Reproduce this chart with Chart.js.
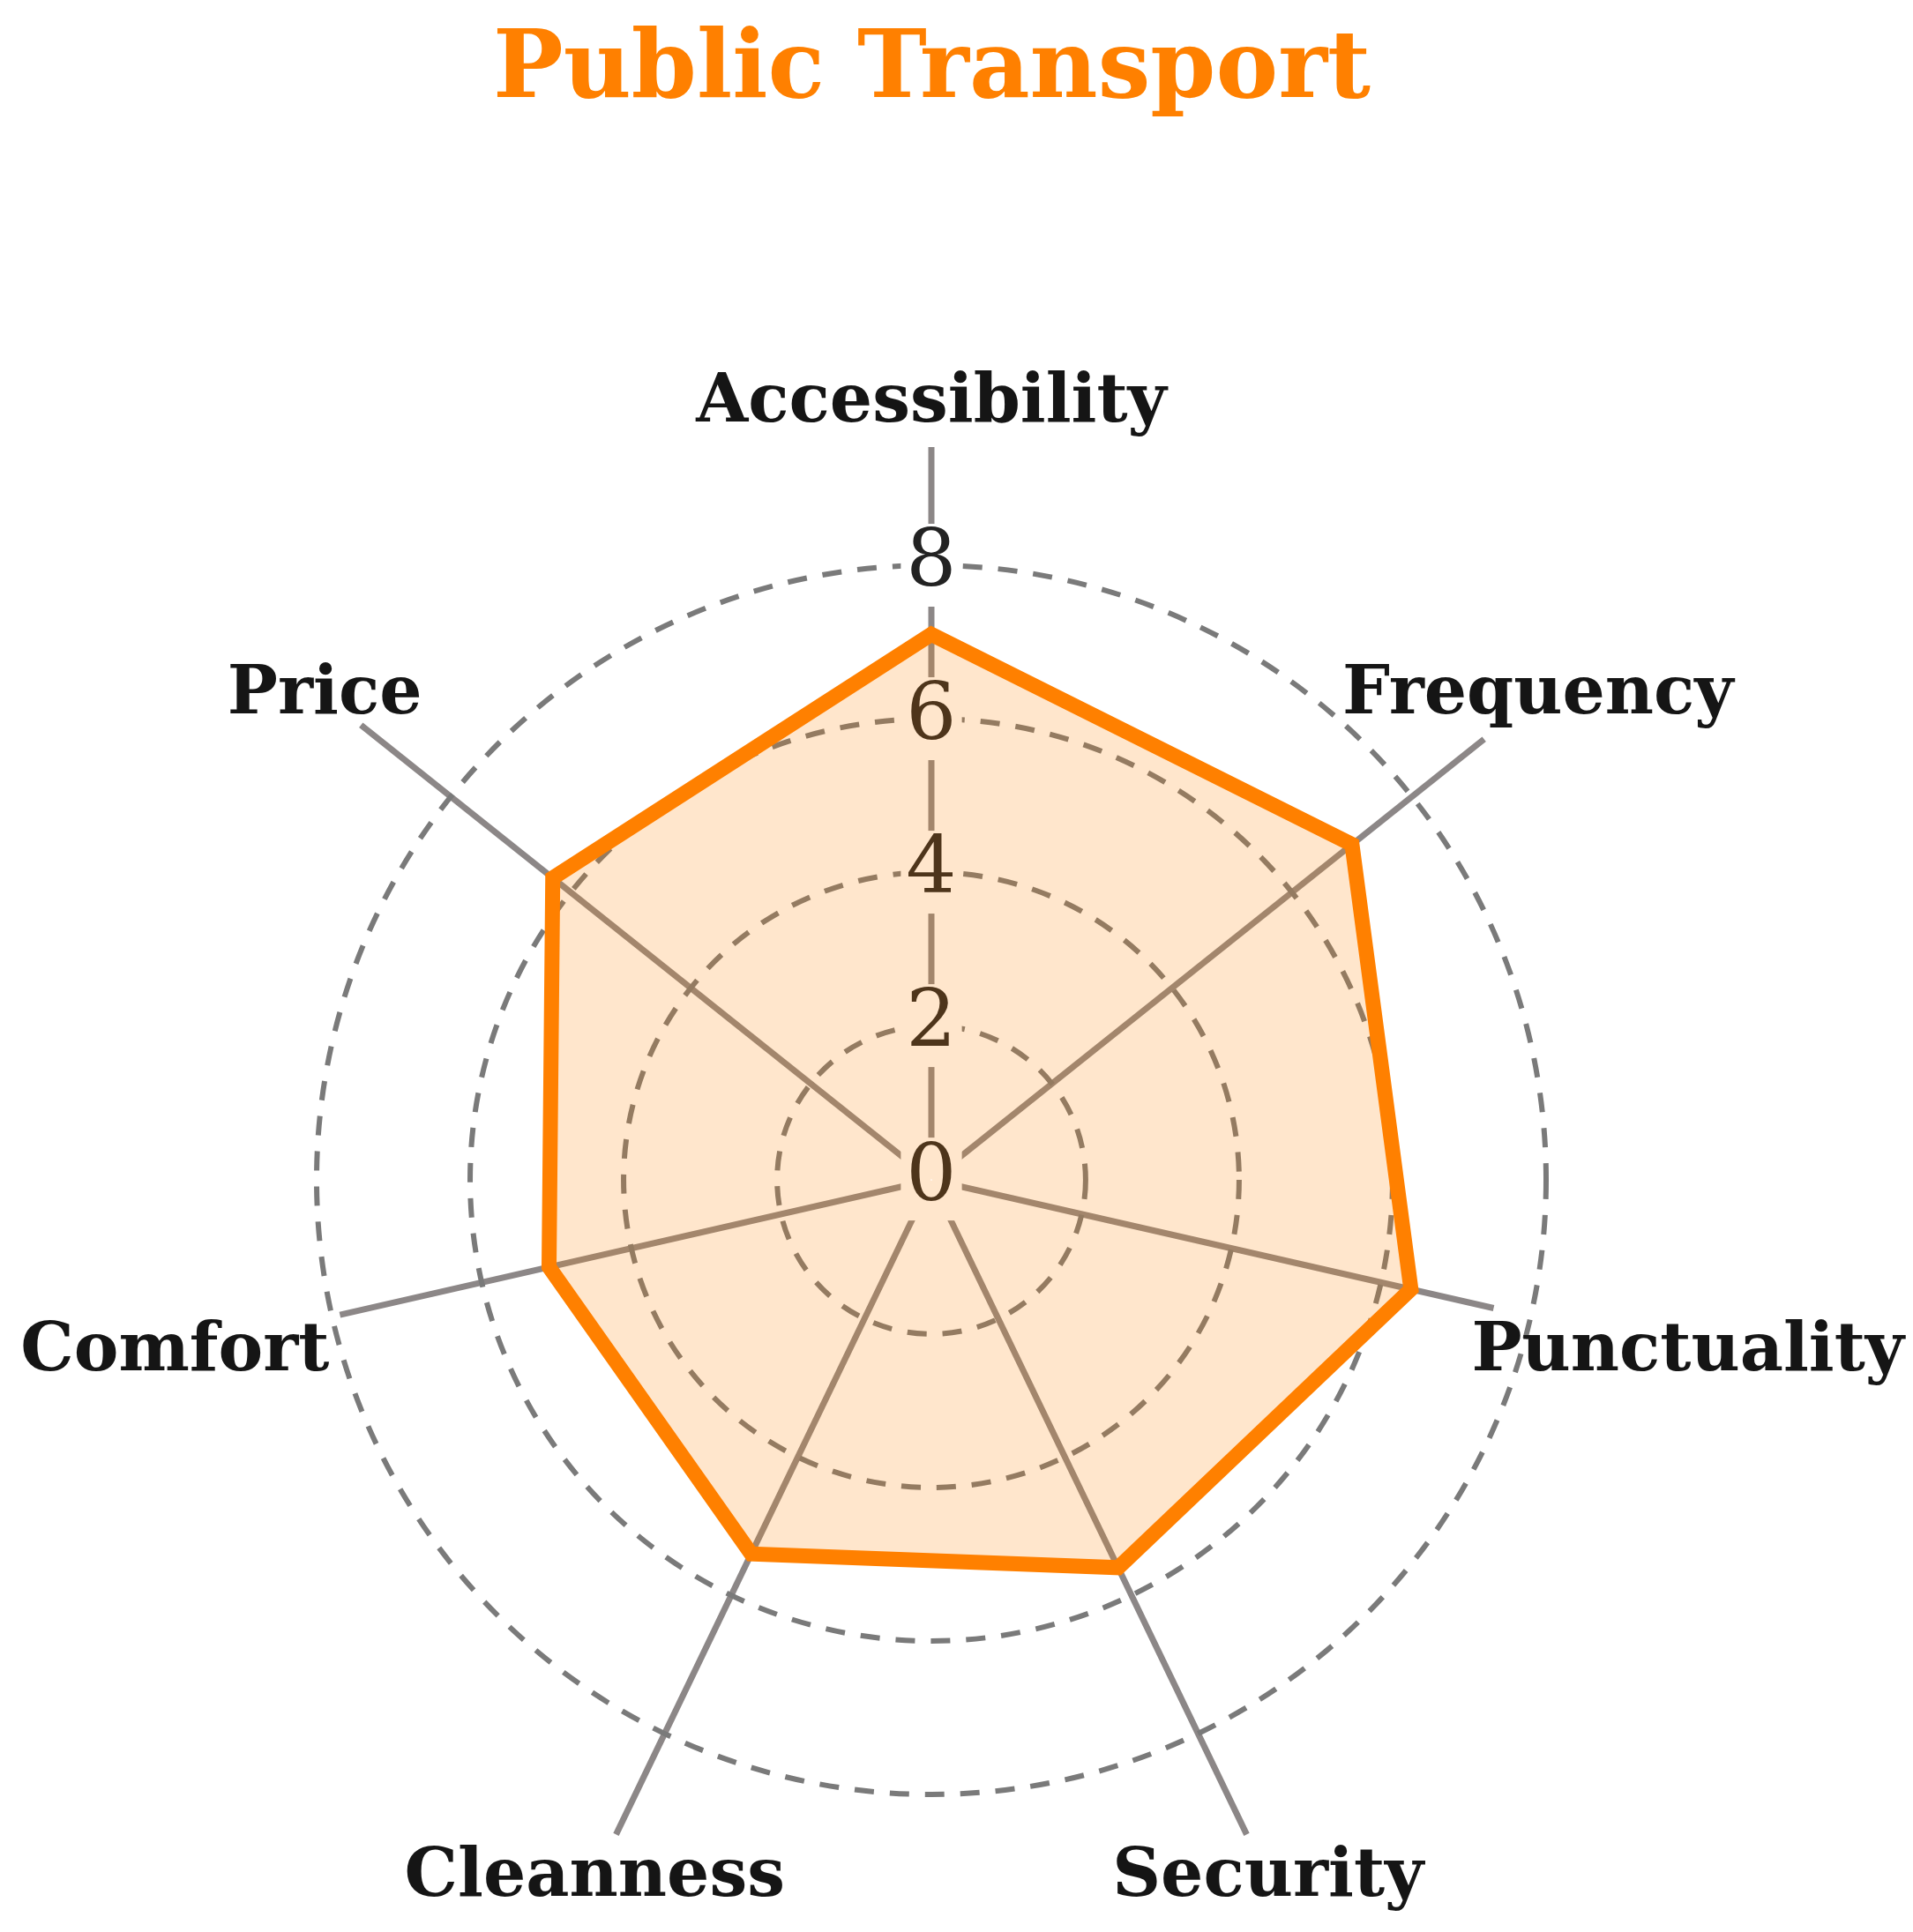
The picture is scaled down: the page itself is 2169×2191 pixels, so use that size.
<!DOCTYPE html>
<html>
<head>
<meta charset="utf-8">
<title>Public Transport</title>
<script src="https://cdn.jsdelivr.net/npm/chart.js@4.4.1/dist/chart.umd.min.js"></script>
<style>
  html, body { margin: 0; padding: 0; background: #ffffff; }
  canvas { display: block; }
</style>
</head>
<body>
<canvas id="chartContainer" width="2169" height="2191"></canvas>
<script>
// data
const chartTitle = "Public Transport";
const categories = ["Accessibility", "Frequency", "Punctuality", "Security", "Cleanness", "Comfort", "Price"];
const scores = [7.1, 7.0, 6.4, 5.6, 5.4, 5.1, 6.3];
const tickValues = [0, 2, 4, 6, 8];

const orange = "#ff8000";
const labelFont = 'bold 76px "DejaVu Serif"';
const labelValue = 10.1; // axis labels sit a bit past the outer ring

// axis lines run from the centre up to each label, labels centred on their axis
const axisLabels = {
    id: "axisLabels",
    beforeDraw(chart) {
        const r = chart.scales.r;
        const ctx = chart.ctx;
        ctx.save();
        ctx.font = labelFont;
        ctx.textBaseline = "middle";
        ctx.strokeStyle = "#8c8787";
        ctx.lineWidth = 7;
        categories.forEach((name, i) => {
            const p = r.getPointPositionForValue(i, labelValue);
            const m = ctx.measureText(name);
            const gap = 12;
            const x0 = p.x - m.width / 2 - gap, x1 = p.x + m.width / 2 + gap;
            const y0 = p.y - m.actualBoundingBoxAscent - gap, y1 = p.y + m.actualBoundingBoxDescent + gap;
            const dx = p.x - r.xCenter, dy = p.y - r.yCenter;
            const len = Math.hypot(dx, dy);
            const ux = dx / len, uy = dy / len;
            const tx = Math.min((x0 - r.xCenter) / ux, (x1 - r.xCenter) / ux);
            const ty = Math.min((y0 - r.yCenter) / uy, (y1 - r.yCenter) / uy);
            const t = Math.max(tx, ty);
            ctx.beginPath();
            ctx.moveTo(r.xCenter, r.yCenter);
            ctx.lineTo(r.xCenter + ux * t, r.yCenter + uy * t);
            ctx.stroke();
        });
        ctx.restore();
    },
    afterDraw(chart) {
        const r = chart.scales.r;
        const ctx = chart.ctx;
        ctx.save();
        ctx.font = labelFont;
        ctx.textAlign = "center";
        ctx.textBaseline = "middle";
        ctx.fillStyle = "#151515";
        categories.forEach((name, i) => {
            const p = r.getPointPositionForValue(i, labelValue);
            ctx.fillText(name, p.x, p.y);
        });
        ctx.restore();
    },
};

const ctx = document.getElementById("chartContainer");
const chart = new Chart(ctx, {
    type: "radar",
    data: {
        labels: categories,
        datasets: [
            {
                label: chartTitle,
                data: scores,
                borderColor: orange,
                backgroundColor: "rgba(255, 128, 0, 0.2)",
                borderWidth: 17,
                borderJoinStyle: "miter",
                pointRadius: 0,
                fill: true,
            },
        ],
    },
    options: {
        responsive: false,
        animation: false,
        devicePixelRatio: 1,
        layout: {
            padding: { top: 0, left: 0, right: 56, bottom: 108 },
        },
        plugins: {
            legend: { display: false },
            tooltip: { enabled: false },
            title: {
                display: true,
                text: chartTitle,
                color: orange,
                font: { family: "DejaVu Serif", size: 106, weight: "bold" },
                padding: { top: 19, bottom: 448 },
            },
        },
        scales: {
            r: {
                min: -0.01, // lets the "0" tick label show at the centre
                max: 8,
                afterBuildTicks: (axis) => {
                    axis.ticks = tickValues.map((v) => ({ value: v }));
                },
                angleLines: { display: false },
                grid: {
                    circular: true,
                    lineWidth: 6,
                    color: (c) => (c.tick && c.tick.value > 0 ? "#7a7a7a" : "transparent"),
                },
                border: { dash: [22, 18] },
                ticks: {
                    color: "#222222",
                    font: { family: "DejaVu Serif", size: 90 },
                    backdropColor: "#ffffff",
                    backdropPadding: { x: 6, y: 2 },
                    callback: (v) => String(v),
                },
                pointLabels: { display: false },
            },
        },
    },
    plugins: [axisLabels],
});
</script>
</body>
</html>
